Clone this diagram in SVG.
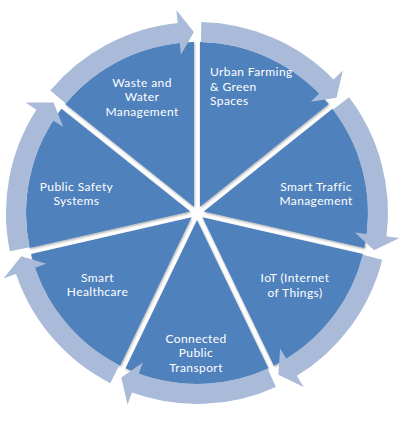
<svg xmlns="http://www.w3.org/2000/svg" width="405" height="424" viewBox="0 0 405 424">
  <defs>
    <filter id="sh" x="-10%" y="-10%" width="120%" height="120%">
      <feDropShadow dx="0.6" dy="1.2" stdDeviation="1.1" flood-color="#000" flood-opacity="0.35"/>
    </filter>
  </defs>
  <style>
    .slice { fill: #4F81BD; filter: url(#sh); }
    .arrow { fill: #A9BBD9; }
    .lbl { font-family: Lato, "Open Sans", sans-serif; font-size: 12px; letter-spacing: 0.4px; fill: #FFFFFF; }
    .mid { text-anchor: middle; }
  </style>
  <rect x="0" y="0" width="405" height="424" fill="#FFFFFF"/>

  <g id="slices">
    <path class="slice" d="M200.00,206.77 L200.00,42.03 A171,171 0 0 1 328.81,104.06 Z"/>
    <path class="slice" d="M203.74,211.46 L332.55,108.76 A171,171 0 0 1 364.35,248.12 Z"/>
    <path class="slice" d="M202.40,217.31 L363.02,253.97 A171,171 0 0 1 273.88,365.74 Z"/>
    <path class="slice" d="M197.00,219.91 L268.48,368.34 A171,171 0 0 1 125.52,368.34 Z"/>
    <path class="slice" d="M191.60,217.31 L120.12,365.74 A171,171 0 0 1 30.98,253.97 Z"/>
    <path class="slice" d="M190.26,211.46 L29.65,248.12 A171,171 0 0 1 61.45,108.76 Z"/>
    <path class="slice" d="M194.00,206.77 L65.19,104.06 A171,171 0 0 1 194.00,42.03 Z"/>
  </g>

  <g id="connectors">
    <path class="arrow" d="M201.33,22.05 A191,191 0 0 1 333.57,79.47 L342.86,70.38 L336.51,97.68 L310.69,101.84 L319.27,93.45 A171,171 0 0 0 200.88,42.04 Z"/>
    <path class="arrow" d="M349.00,97.35 A191,191 0 0 1 386.55,236.46 L399.46,238.06 L374.14,250.19 L354.80,232.53 L366.71,234.01 A171,171 0 0 0 333.08,109.46 Z"/>
    <path class="arrow" d="M382.20,259.72 A191,191 0 0 1 296.83,375.83 L303.63,386.91 L278.36,374.68 L280.11,348.55 L286.38,358.78 A171,171 0 0 0 362.81,254.83 Z"/>
    <path class="arrow" d="M275.94,386.92 A191,191 0 0 1 131.94,392.58 L127.51,404.80 L121.33,377.42 L142.84,362.49 L138.75,373.77 A171,171 0 0 0 267.67,368.71 Z"/>
    <path class="arrow" d="M110.25,383.17 A191,191 0 0 1 16.04,274.10 L3.72,278.26 L21.27,256.35 L46.35,263.87 L34.98,267.71 A171,171 0 0 0 119.34,365.35 Z"/>
    <path class="arrow" d="M9.87,251.27 A191,191 0 0 1 36.37,109.65 L25.44,102.62 L53.55,102.62 L63.29,126.97 L53.19,120.48 A171,171 0 0 0 29.47,247.26 Z"/>
    <path class="arrow" d="M50.37,90.60 A191,191 0 0 1 177.70,22.98 L176.38,10.04 L193.84,32.03 L180.93,54.81 L179.72,42.88 A171,171 0 0 0 65.72,103.42 Z"/>
  </g>

  <g id="n-urban-farming">
    <text class="lbl" x="210" y="76.3">Urban Farming</text>
    <text class="lbl" x="210" y="90.8">&amp; Green</text>
    <text class="lbl" x="210" y="105.3">Spaces</text>
  </g>
  <g id="n-smart-traffic">
    <text class="lbl mid" x="316" y="190.5">Smart Traffic</text>
    <text class="lbl mid" x="316" y="205">Management</text>
  </g>
  <g id="n-iot">
    <text class="lbl mid" x="295" y="282">IoT (Internet</text>
    <text class="lbl mid" x="295" y="296.5">of Things)</text>
  </g>
  <g id="n-transport">
    <text class="lbl mid" x="196" y="342.5">Connected</text>
    <text class="lbl mid" x="196" y="357">Public</text>
    <text class="lbl mid" x="196" y="371.5">Transport</text>
  </g>
  <g id="n-healthcare">
    <text class="lbl mid" x="97.5" y="281.5">Smart</text>
    <text class="lbl mid" x="97.5" y="296">Healthcare</text>
  </g>
  <g id="n-public-safety">
    <text class="lbl mid" x="76.5" y="190.5">Public Safety</text>
    <text class="lbl mid" x="76.5" y="205">Systems</text>
  </g>
  <g id="n-waste-water">
    <text class="lbl mid" x="142" y="86.5">Waste and</text>
    <text class="lbl mid" x="142" y="101">Water</text>
    <text class="lbl mid" x="142" y="115.5">Management</text>
  </g>
</svg>
